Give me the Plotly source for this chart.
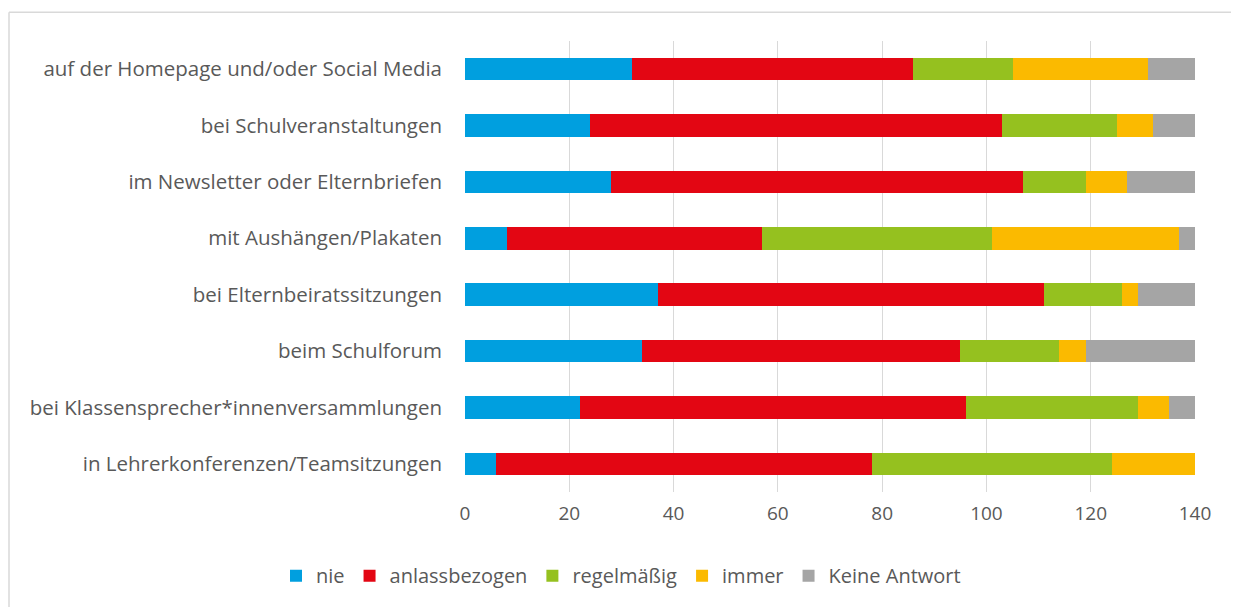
import plotly.graph_objects as go

categories = [
    "auf der Homepage und/oder Social Media",
    "bei Schulveranstaltungen",
    "im Newsletter oder Elternbriefen",
    "mit Aushängen/Plakaten",
    "bei Elternbeiratssitzungen",
    "beim Schulforum",
    "bei Klassensprecher*innenversammlungen",
    "in Lehrerkonferenzen/Teamsitzungen",
]
nie = [32, 24, 28, 8, 37, 34, 22, 6]
anlassbezogen = [54, 79, 79, 49, 74, 61, 74, 72]
regelmaessig = [19, 22, 12, 44, 15, 19, 33, 46]
immer = [26, 7, 8, 36, 3, 5, 6, 16]
keine_antwort = [9, 8, 13, 3, 11, 21, 5, 0]

series = [
    ("nie", nie, "#009FDF"),
    ("anlassbezogen", anlassbezogen, "#E30613"),
    ("regelmäßig", regelmaessig, "#95C11F"),
    ("immer", immer, "#FBBA00"),
    ("Keine Antwort", keine_antwort, "#A5A5A5"),
]

FONT = "Open Sans"
TXT = "#595959"

fig = go.Figure()
for name, vals, col in series:
    fig.add_trace(go.Bar(
        y=categories, x=vals, name=name, orientation="h",
        marker=dict(color=col, line=dict(width=0)),
        hovertemplate="%{y}: %{x}<extra>" + name + "</extra>",
    ))

# page body has an 8px margin: figure is offset by (8, 8)
W, H = 1231, 599
L, R, T, B = 457, 44, 33, 113
plot_w = W - L - R
plot_h = H - T - B

bx0 = (1 - L) / plot_w
bx1 = (W + 20 - L) / plot_w
by0 = -0.4
by1 = 1 + (T - 4) / plot_h
border = dict(color="#D9D9D9", width=1.5)

fig.update_layout(
    barmode="stack",
    bargap=0.6,
    width=W, height=H,
    margin=dict(l=L, r=R, t=T, b=B),
    plot_bgcolor="white", paper_bgcolor="white",
    font=dict(family=FONT, size=20, color=TXT),
    showlegend=True,
    legend=dict(orientation="h", x=(613 - L) / plot_w, xanchor="center",
                y=-(570 - (H - B)) / plot_h, yanchor="middle",
                font=dict(family=FONT, size=20, color=TXT),
                itemwidth=30, traceorder="normal"),
    xaxis=dict(range=[0, 140], dtick=20, showgrid=True, gridcolor="#D9D9D9", gridwidth=1,
               zeroline=False, showline=False, ticks="",
               tickfont=dict(family=FONT, size=19, color=TXT), ticklabelstandoff=8),
    yaxis=dict(autorange="reversed", showgrid=False, ticks="", showline=False,
               tickfont=dict(family=FONT, size=20.5, color=TXT), ticklabelstandoff=22),
    shapes=[
        dict(type="line", xref="paper", yref="paper", x0=bx0, x1=bx1, y0=by1, y1=by1,
             line=border, layer="below"),
        dict(type="line", xref="paper", yref="paper", x0=bx0, x1=bx0, y0=by0, y1=by1,
             line=border, layer="below"),
    ],
)

fig.write_html("out.html")
